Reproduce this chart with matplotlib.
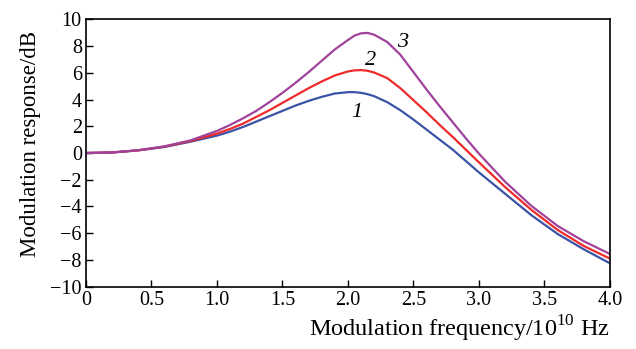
import matplotlib
matplotlib.use("Agg")
import matplotlib.pyplot as plt

plt.rcParams["font.family"] = ["Liberation Serif", "DejaVu Serif"]
plt.rcParams["mathtext.fontset"] = "custom"
plt.rcParams["mathtext.rm"] = "Liberation Serif"

freq = [0, 0.2, 0.4, 0.6, 0.8, 1.0, 1.1, 1.2, 1.3, 1.4, 1.5, 1.6, 1.7, 1.8,
        1.9, 2.0, 2.05, 2.1, 2.15, 2.2, 2.3, 2.4, 2.5, 2.6, 2.7, 2.8, 2.9,
        3.0, 3.2, 3.4, 3.6, 3.8, 4.0]
curve1 = [0, 0.04, 0.2, 0.45, 0.85, 1.3, 1.6, 1.95, 2.35, 2.75, 3.15, 3.55,
          3.9, 4.2, 4.45, 4.55, 4.55, 4.5, 4.4, 4.25, 3.8, 3.2, 2.5, 1.75,
          1.0, 0.25, -0.6, -1.45, -3.05, -4.65, -6.05, -7.2, -8.25]
curve2 = [0, 0.04, 0.2, 0.48, 0.9, 1.45, 1.8, 2.2, 2.7, 3.2, 3.75, 4.3,
          4.85, 5.35, 5.8, 6.1, 6.18, 6.2, 6.15, 6.02, 5.6, 4.85, 3.95, 3.05,
          2.1, 1.2, 0.25, -0.7, -2.55, -4.25, -5.75, -6.95, -7.9]
curve3 = [0, 0.04, 0.21, 0.5, 0.95, 1.65, 2.1, 2.6, 3.15, 3.8, 4.5, 5.25,
          6.05, 6.9, 7.75, 8.45, 8.78, 8.95, 8.98, 8.85, 8.3, 7.35, 6.05,
          4.75, 3.5, 2.3, 1.1, -0.05, -2.15, -3.95, -5.45, -6.6, -7.55]

xticks = [0, 0.5, 1.0, 1.5, 2.0, 2.5, 3.0, 3.5, 4.0]
xticklabels = ["0", "0.5", "1.0", "1.5", "2.0", "2.5", "3.0", "3.5", "4.0"]
yticks = list(range(-10, 11, 2))
yticklabels = [str(v).replace("-", "\u2212") for v in yticks]

fig = plt.figure(figsize=(6.36, 3.49), dpi=100)
ax = fig.add_axes([0.1352, 0.1785, 0.8238, 0.7662])

ax.plot(freq, curve1, color="#3a53a4", lw=1.6)
ax.plot(freq, curve2, color="#ee2a2a", lw=1.6)
ax.plot(freq, curve3, color="#a0429a", lw=1.6)

ax.text(2.07, 3.0, "1", fontsize=16, style="italic", ha="center", va="center")
ax.text(2.17, 6.9, "2", fontsize=16, style="italic", ha="center", va="center")
ax.text(2.42, 8.3, "3", fontsize=16, style="italic", ha="center", va="center")

ax.set_xlim(0, 4.0)
ax.set_ylim(-10, 10)
ax.set_xticks(xticks)
ax.set_xticklabels(xticklabels)
ax.set_yticks(yticks)
ax.set_yticklabels(yticklabels)
ax.tick_params(direction="in", length=5, width=1, labelsize=14.5, pad=3)
for s in ax.spines.values():
    s.set_linewidth(1.2)

ax.set_xlabel("Modulation frequency/10$^{10}$ Hz", fontsize=17.5, loc="right",
              labelpad=3)
ax.set_ylabel("Modulation response/dB", fontsize=16.5)
ax.yaxis.set_label_coords(-0.085, 0.535)

fig.savefig("out.png", dpi=100)
